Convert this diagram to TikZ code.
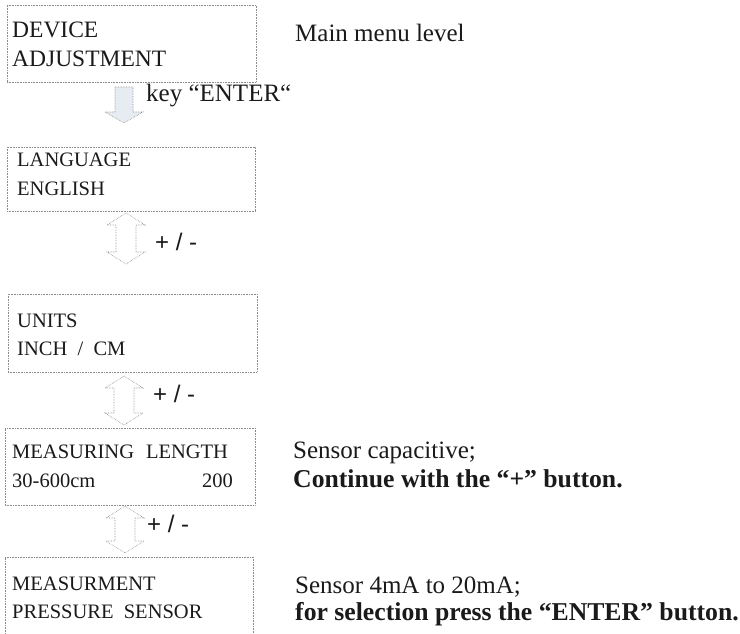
\documentclass[tikz,border=0pt]{standalone}
\usepackage{fontspec}
\setmainfont{Liberation Serif}
\newfontfamily\sansf{Liberation Sans}
\definecolor{ink}{HTML}{1A1A1A}
\definecolor{boxline}{HTML}{8A8A8A}
\definecolor{arrfill}{HTML}{E6ECF2}
\newcommand\mydblarrow[4]{% name, cx, ytop, ybot
  \draw[arrowshape] (#2,#3) -- (#2+19,#3+12) -- (#2+10,#3+12) -- (#2+10,#4-12)
    -- (#2+19,#4-12) -- (#2,#4) -- (#2-19,#4-12) -- (#2-10,#4-12)
    -- (#2-10,#3+12) -- (#2-19,#3+12) -- cycle;
  \coordinate (#1) at (#2,{(#3+#4)/2});}
\begin{document}
\begin{tikzpicture}[x=1pt,y=-1pt,
  box/.style={draw=boxline, densely dotted, line width=0.6pt, inner sep=0pt},
  arrowshape/.style={draw=boxline, densely dotted, line width=0.6pt, fill=white},
  boxtxt/.style={anchor=base west, inner sep=0pt, text=ink, font=\fontsize{20.5}{24}\selectfont},
  bigtxt/.style={anchor=base west, inner sep=0pt, text=ink, font=\fontsize{23.5}{27}\selectfont},
  note/.style={anchor=base west, inner sep=0pt, text=ink, font=\fontsize{25}{29}\selectfont},
  notebf/.style={note, font=\fontsize{25.7}{29}\selectfont\bfseries},
  pm/.style={anchor=base west, inner sep=0pt, text=ink, font=\sansf\fontsize{24}{28}\selectfont}]
\useasboundingbox (0,0) rectangle (740,634);
% boxes
\node[box, minimum width=249pt, minimum height=77pt] (b1) at (131.5,43.5) {};
\node[box, minimum width=248pt, minimum height=64pt] (b2) at (131,179) {};
\node[box, minimum width=249pt, minimum height=78pt] (b3) at (132.5,333) {};
\node[box, minimum width=250pt, minimum height=77pt] (b4) at (130,466.5) {};
\coordinate (b5nw) at (5,557);
\coordinate (b5ne) at (253,557);
\draw[box] (5,640) -- (b5nw) -- (b5ne) -- (253,640);
% box texts
\node[bigtxt] (t1a) at (12,38) {DEVICE};
\node[bigtxt] (t1b) at (12,67) {ADJUSTMENT};
\node[boxtxt] (t2a) at (17,167) {LANGUAGE};
\node[boxtxt] (t2b) at (17,195) {ENGLISH};
\node[boxtxt] (t3a) at (17,327) {UNITS};
\node[boxtxt] (t3b) at (17,355) {INCH\ \ /\ \ CM};
\node[boxtxt] (t4a) at (12,458) {MEASURING\hspace{12pt}LENGTH};
\node[boxtxt] (t4b) at (12,487) {30-600cm};
\node[boxtxt, anchor=base east] (t4c) at (233,487) {200};
\node[boxtxt] (t5a) at (12,590) {MEASURMENT};
\node[boxtxt] (t5b) at (12,618) {PRESSURE\ \ SENSOR};
% side notes
\node[note] (n1) at (295,42) {Main menu level};
\node[note] (n2) at (293,458) {Sensor capacitive;};
\node[notebf] (n3) at (293,487) {Continue with the “+” button.};
\node[note] (n4) at (295,593) {Sensor 4mA to 20mA;};
\node[notebf] (n5) at (295,620) {for selection press the “ENTER” button.};
% enter arrow
\draw[draw=boxline, densely dotted, line width=0.6pt, fill=arrfill]
  (115,87) -- (133,87) -- (133,112) -- (143,112) -- (124,123) -- (105,112) -- (115,112) -- cycle;
\node[note] (k) at (146,102) {key “ENTER“};
% +/- arrows
\mydblarrow{a1}{126}{213}{264}
\node[pm] (p1) at (155,250) {+ / -};
\mydblarrow{a2}{124}{376}{425}
\node[pm] (p2) at (153,402) {+ / -};
\mydblarrow{a3}{125}{506}{553}
\node[pm] (p3) at (147,532) {+ / -};
\end{tikzpicture}
\end{document}
